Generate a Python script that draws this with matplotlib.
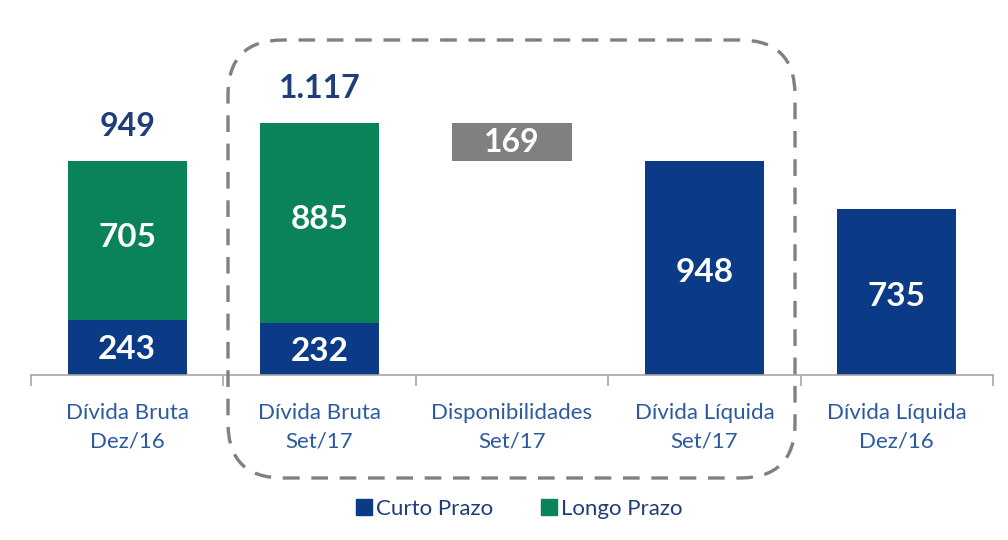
import matplotlib
matplotlib.use("Agg")
import matplotlib.pyplot as plt
from matplotlib.patches import FancyBboxPatch
from matplotlib.transforms import IdentityTransform

categories = ["Dívida Bruta\nDez/16", "Dívida Bruta\nSet/17", "Disponibilidades\nSet/17",
              "Dívida Líquida\nSet/17", "Dívida Líquida\nDez/16"]
curto_prazo = [243, 232]
longo_prazo = [705, 885]
totais_bruta = [949, 1117]
disponibilidades = 169
divida_liquida = [948, 735]

NAVY = "#0B3A86"
GREEN = "#0B8358"
GRAY = "#808080"
LABEL_BLUE = "#2C5AA0"
TOTAL_BLUE = "#1F3D7A"

plt.rcParams["font.family"] = ["Lato", "DejaVu Sans"]


def fmt(v):
    return f"{v:,}".replace(",", ".")


def bar_label(ax, x, y, text, color="white", size=24):
    ax.text(x, y, text, ha="center", va="center", color=color,
            fontsize=size, fontweight="bold")


fig = plt.figure(figsize=(10.08, 5.4), dpi=100)
ax = fig.add_axes([31 / 1008, 165 / 540, 962 / 1008, 335 / 540])
width = 0.62

# gross debt bars (stacked)
for i in range(2):
    ax.bar(i, curto_prazo[i], width, color=NAVY)
    ax.bar(i, longo_prazo[i], width, bottom=curto_prazo[i], color=GREEN)
    bar_label(ax, i, curto_prazo[i] / 2 - 10, str(curto_prazo[i]))
    bar_label(ax, i, curto_prazo[i] + longo_prazo[i] / 2 + 15, str(longo_prazo[i]))
    ax.annotate(fmt(totais_bruta[i]), (i, curto_prazo[i] + longo_prazo[i]),
                xytext=(0, 25), textcoords="offset points", ha="center",
                va="center", color=TOTAL_BLUE, fontsize=23, fontweight="bold")

# cash: floating bar
base = totais_bruta[1] - disponibilidades
ax.bar(2, disponibilidades, width, bottom=base, color=GRAY)
bar_label(ax, 2, base + disponibilidades / 2, str(disponibilidades), size=23)

# net debt
for j, v in enumerate(divida_liquida):
    ax.bar(3 + j, v, width, color=NAVY)
    bar_label(ax, 3 + j, v / 2 - 20, str(v))

ax.set_xlim(-0.5, 4.5)
ax.set_ylim(0, 1485)
ax.set_xticks(range(5))
ax.set_xticklabels(categories, color=LABEL_BLUE, fontsize=16, linespacing=1.55)
ax.tick_params(axis="x", which="major", length=0, pad=20)
ax.set_xticks([k - 0.5 for k in range(6)], minor=True)
ax.tick_params(axis="x", which="minor", length=8, width=1.2, color="#A6A6A6", direction="out")
ax.set_yticks([])
for s in ["left", "right", "top"]:
    ax.spines[s].set_visible(False)
ax.spines["bottom"].set_color("#A6A6A6")
ax.spines["bottom"].set_linewidth(1.2)

# legend
h1 = plt.Line2D([], [], marker="s", ls="", color=NAVY, markersize=11)
h2 = plt.Line2D([], [], marker="s", ls="", color=GREEN, markersize=11)
leg = fig.legend([h1, h2], ["Curto Prazo", "Longo Prazo"], loc="center",
                 bbox_to_anchor=(518 / 1008, 1 - 509 / 540), ncol=2, frameon=False,
                 fontsize=16, handletextpad=0.05, columnspacing=2.0, handlelength=1.0)
for t in leg.get_texts():
    t.set_color(TOTAL_BLUE)

# dashed rounded highlight
box = FancyBboxPatch((228, 62), 567, 438, boxstyle="round,pad=0,rounding_size=55",
                     transform=IdentityTransform(), fill=False, edgecolor=GRAY,
                     linewidth=2.4, linestyle=(0, (5, 3.5)))
fig.add_artist(box)

fig.savefig("out.png", dpi=100)
